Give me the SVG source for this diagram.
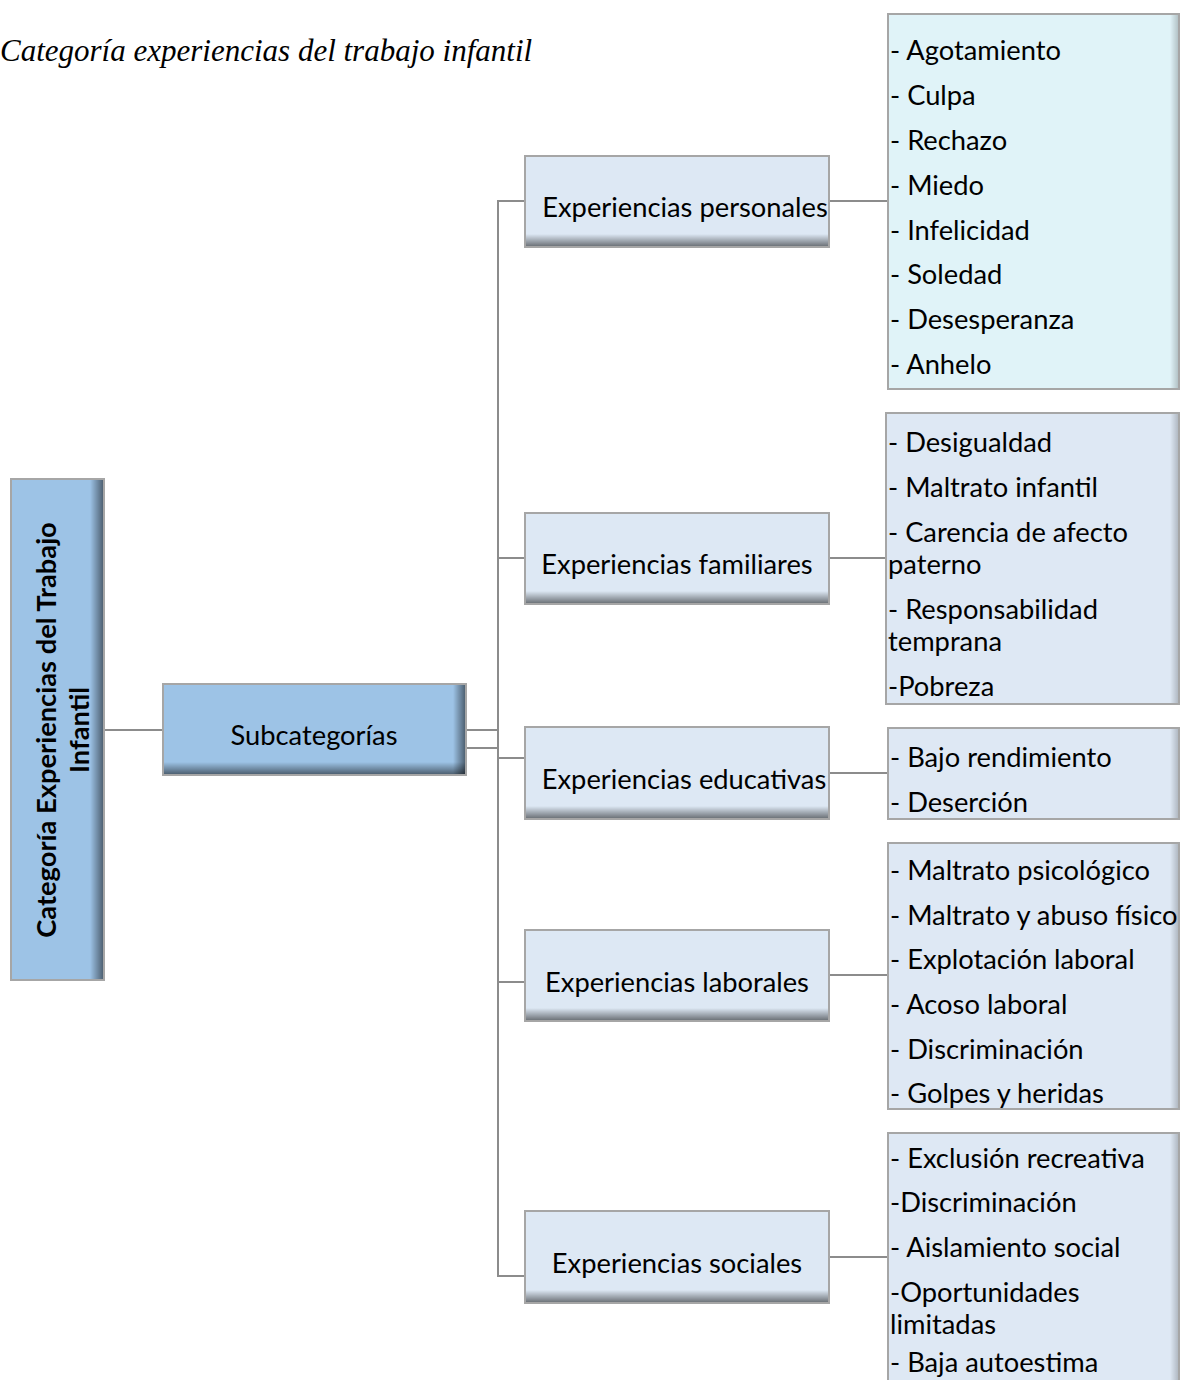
<svg xmlns="http://www.w3.org/2000/svg" width="1180" height="1380" viewBox="0 0 1180 1380">
<style>
.t{font-family:Lato,"Liberation Sans",sans-serif;font-size:27.3px;fill:#000}
.tc{text-anchor:middle}
.bx{stroke:#a6a6a6;stroke-width:2}
.blue{fill:#9dc3e6}
.sub{fill:#dde8f4}
.lc{fill:#e0f3f8}
.lb{fill:#dee8f4}
.cn{stroke:#8c8c8c;stroke-width:2;fill:none}
</style>
<defs>
<linearGradient id="gb" x1="0" y1="0" x2="0" y2="1"><stop offset="0" stop-color="#000" stop-opacity="0"/><stop offset="1" stop-color="#000" stop-opacity="0.5"/></linearGradient>
<linearGradient id="gr" x1="0" y1="0" x2="1" y2="0"><stop offset="0" stop-color="#000" stop-opacity="0"/><stop offset="1" stop-color="#000" stop-opacity="0.5"/></linearGradient>
<linearGradient id="grl" x1="0" y1="0" x2="1" y2="0"><stop offset="0" stop-color="#000" stop-opacity="0"/><stop offset="1" stop-color="#000" stop-opacity="0.2"/></linearGradient>
</defs>
<text x="0" y="61" font-family="'Liberation Serif',serif" font-style="italic" font-size="31">Categoría experiencias del trabajo infantil</text>
<g id="connectors">
<line class="cn" x1="104" y1="730" x2="163" y2="730"/>
<polyline class="cn" points="466,730 498,730"/>
<polyline class="cn" points="466,748 498,748"/>
<polyline class="cn" points="525,201 498,201 498,1276 525,1276"/>
<line class="cn" x1="498" y1="558" x2="525" y2="558"/>
<line class="cn" x1="498" y1="758" x2="525" y2="758"/>
<line class="cn" x1="498" y1="982" x2="525" y2="982"/>
<line class="cn" x1="829" y1="201" x2="888" y2="201"/>
<line class="cn" x1="829" y1="558" x2="886" y2="558"/>
<line class="cn" x1="829" y1="773" x2="888" y2="773"/>
<line class="cn" x1="829" y1="975" x2="888" y2="975"/>
<line class="cn" x1="829" y1="1257" x2="888" y2="1257"/>
</g>
<g id="categoria">
<rect class="bx blue" x="11" y="479" width="93" height="501"/>
<rect x="90" y="480" width="13" height="499" fill="url(#gr)"/>
<text class="t" transform="translate(57,730) rotate(-90)" font-size="26" font-weight="bold" text-anchor="middle"><tspan x="0" y="-1">Categoría Experiencias del Trabajo</tspan><tspan x="0" y="32">Infantil</tspan></text>
</g>
<g id="subcategorias">
<rect class="bx blue" x="163" y="684" width="303" height="91"/>
<rect x="164" y="762" width="301" height="12" fill="url(#gb)"/>
<rect x="453" y="685" width="12" height="89" fill="url(#gr)"/>
<text class="t tc" x="314" y="745">Subcategorías</text>
</g>
<g id="exp-personales">
<rect class="bx sub" x="525" y="156" width="304" height="91"/>
<rect x="526" y="234" width="302" height="12" fill="url(#gb)"/>
<text class="t tc" x="685" y="217">Experiencias personales</text>
</g>
<g id="exp-familiares">
<rect class="bx sub" x="525" y="513" width="304" height="91"/>
<rect x="526" y="591" width="302" height="12" fill="url(#gb)"/>
<text class="t tc" x="677" y="574">Experiencias familiares</text>
</g>
<g id="exp-educativas">
<rect class="bx sub" x="525" y="727" width="304" height="92"/>
<rect x="526" y="806" width="302" height="12" fill="url(#gb)"/>
<text class="t tc" x="684" y="789">Experiencias educativas</text>
</g>
<g id="exp-laborales">
<rect class="bx sub" x="525" y="930" width="304" height="91"/>
<rect x="526" y="1008" width="302" height="12" fill="url(#gb)"/>
<text class="t tc" x="677" y="992">Experiencias laborales</text>
</g>
<g id="exp-sociales">
<rect class="bx sub" x="525" y="1211" width="304" height="92"/>
<rect x="526" y="1290" width="302" height="12" fill="url(#gb)"/>
<text class="t tc" x="677" y="1273">Experiencias sociales</text>
</g>
<g id="lista-personales">
<rect class="bx lc" x="888" y="14" width="291" height="375"/>
<rect x="1170" y="15" width="8" height="373" fill="url(#grl)"/>
<text class="t"><tspan x="890" y="60">- Agotamiento</tspan><tspan x="890" y="105">- Culpa</tspan><tspan x="890" y="150">- Rechazo</tspan><tspan x="890" y="195">- Miedo</tspan><tspan x="890" y="240">- Infelicidad</tspan><tspan x="890" y="284">- Soledad</tspan><tspan x="890" y="329">- Desesperanza</tspan><tspan x="890" y="374">- Anhelo</tspan></text>
</g>
<g id="lista-familiares">
<rect class="bx lb" x="886" y="413" width="293" height="291"/>
<rect x="1170" y="414" width="8" height="289" fill="url(#grl)"/>
<text class="t"><tspan x="888" y="452">- Desigualdad</tspan><tspan x="888" y="497">- Maltrato infantil</tspan><tspan x="888" y="542">- Carencia de afecto</tspan><tspan x="888" y="574">paterno</tspan><tspan x="888" y="619">- Responsabilidad</tspan><tspan x="888" y="651">temprana</tspan><tspan x="888" y="696">-Pobreza</tspan></text>
</g>
<g id="lista-educativas">
<rect class="bx lb" x="888" y="728" width="291" height="91"/>
<rect x="1170" y="729" width="8" height="89" fill="url(#grl)"/>
<text class="t"><tspan x="890" y="767">- Bajo rendimiento</tspan><tspan x="890" y="812">- Deserción</tspan></text>
</g>
<g id="lista-laborales">
<rect class="bx lb" x="888" y="843" width="291" height="266"/>
<rect x="1170" y="844" width="8" height="264" fill="url(#grl)"/>
<text class="t"><tspan x="890" y="880">- Maltrato psicológico</tspan><tspan x="890" y="925">- Maltrato y abuso físico</tspan><tspan x="890" y="969">- Explotación laboral</tspan><tspan x="890" y="1014">- Acoso laboral</tspan><tspan x="890" y="1059">- Discriminación</tspan><tspan x="890" y="1103">- Golpes y heridas</tspan></text>
</g>
<g id="lista-sociales">
<rect class="bx lb" x="888" y="1133" width="291" height="260"/>
<rect x="1170" y="1134" width="8" height="258" fill="url(#grl)"/>
<text class="t"><tspan x="890" y="1168">- Exclusión recreativa</tspan><tspan x="890" y="1212">-Discriminación</tspan><tspan x="890" y="1257">- Aislamiento social</tspan><tspan x="890" y="1302">-Oportunidades</tspan><tspan x="890" y="1334">limitadas</tspan><tspan x="890" y="1372">- Baja autoestima</tspan></text>
</g>
</svg>
